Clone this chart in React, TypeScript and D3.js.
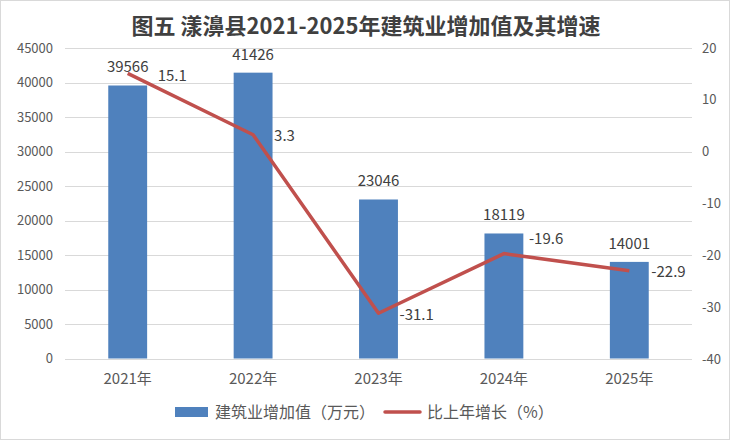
import { useEffect, useRef } from "react";
import * as d3 from "d3";

const years = ["2021年", "2022年", "2023年", "2024年", "2025年"];
const valueAdded = [39566, 41426, 23046, 18119, 14001];
const growth = [15.1, 3.3, -31.1, -19.6, -22.9];
const leftTicks = [0, 5000, 10000, 15000, 20000, 25000, 30000, 35000, 40000, 45000];
const rightTicks = [-40, -30, -20, -10, 0, 10, 20];

// where Excel put the growth labels, relative to each point
const growthLabelNudge = [
    [30, 2],
    [21, 1],
    [21, 1],
    [25, -15],
    [22, 1],
];

const W = 730;
const H = 440;
const FONT = "'Noto Sans CJK SC', 'Microsoft YaHei', sans-serif";

export default function App() {
    const ref = useRef<SVGSVGElement>(null);

    useEffect(() => {
        const svg = d3.select(ref.current);
        svg.selectAll("*").remove();

        const left = 65, right = 692, top = 48, bottom = 358.5;

        const x = d3.scaleBand().domain(years).range([left, right]).paddingInner(0.69).paddingOuter(0.345);
        const yL = d3.scaleLinear().domain([0, 45000]).range([bottom, top]);
        const yR = d3.scaleLinear().domain([-40, 20]).range([bottom + 1, top]);

        svg.append("rect")
            .attr("x", 0.5).attr("y", 0.5)
            .attr("width", W - 1).attr("height", H - 1)
            .attr("fill", "#fff").attr("stroke", "#d9d9d9");

        svg.append("text")
            .attr("x", 366).attr("y", 34)
            .attr("text-anchor", "middle")
            .attr("font-size", 22).attr("font-weight", "bold")
            .attr("fill", "#404040")
            .text("图五 漾濞县2021-2025年建筑业增加值及其增速");

        // gridlines + left axis
        svg.append("g").selectAll("line").data(leftTicks).enter().append("line")
            .attr("x1", left).attr("x2", right)
            .attr("y1", (d) => Math.round(yL(d)) + 0.5).attr("y2", (d) => Math.round(yL(d)) + 0.5)
            .attr("stroke", "#d9d9d9").attr("stroke-width", 1);

        svg.append("g").selectAll("text").data(leftTicks).enter().append("text")
            .attr("x", 53).attr("y", (d) => yL(d))
            .attr("dy", "0.35em").attr("text-anchor", "end")
            .attr("font-size", 13).attr("fill", "#595959")
            .text((d) => d);

        svg.append("g").selectAll("text").data(rightTicks).enter().append("text")
            .attr("x", 702).attr("y", (d) => yR(d))
            .attr("dy", "0.35em")
            .attr("font-size", 13).attr("fill", "#595959")
            .text((d) => d);

        svg.append("g").selectAll("text").data(years).enter().append("text")
            .attr("x", (d) => x(d)! + x.bandwidth() / 2).attr("y", 379)
            .attr("dy", "0.35em").attr("text-anchor", "middle")
            .attr("font-size", 15).attr("fill", "#595959")
            .text((d) => d);

        // bars
        svg.append("g").selectAll("rect").data(valueAdded).enter().append("rect")
            .attr("x", (d, i) => x(years[i])!)
            .attr("width", x.bandwidth())
            .attr("y", (d) => yL(d))
            .attr("height", (d) => bottom - yL(d))
            .attr("fill", "#4f81bd");

        svg.append("g").selectAll("text").data(valueAdded).enter().append("text")
            .attr("x", (d, i) => x(years[i])! + x.bandwidth() / 2)
            .attr("y", (d) => yL(d) - 13)
            .attr("text-anchor", "middle")
            .attr("font-size", 15).attr("fill", "#404040")
            .text((d) => d);

        // growth line
        const cx = (i: number) => x(years[i])! + x.bandwidth() / 2;
        const line = d3.line<number>()
            .x((d, i) => cx(i))
            .y((d) => yR(d));

        svg.append("path")
            .datum(growth)
            .attr("d", line)
            .attr("fill", "none")
            .attr("stroke", "#c0504d")
            .attr("stroke-width", 3.5)
            .attr("stroke-linejoin", "round");

        svg.append("g").selectAll("text").data(growth).enter().append("text")
            .attr("x", (d, i) => cx(i) + growthLabelNudge[i][0])
            .attr("y", (d, i) => yR(d) + growthLabelNudge[i][1])
            .attr("dy", "0.35em")
            .attr("font-size", 15).attr("fill", "#404040")
            .text((d) => d.toFixed(1));

        // legend
        const lg = svg.append("g");
        lg.append("rect")
            .attr("x", 175).attr("y", 407).attr("width", 33).attr("height", 10)
            .attr("fill", "#4f81bd");
        lg.append("text")
            .attr("x", 215).attr("y", 412).attr("dy", "0.35em")
            .attr("font-size", 16).attr("fill", "#595959")
            .text("建筑业增加值（万元）");
        lg.append("line")
            .attr("x1", 385).attr("x2", 420).attr("y1", 412).attr("y2", 412)
            .attr("stroke", "#c0504d").attr("stroke-width", 3.5)
            .attr("stroke-linecap", "round");
        lg.append("text")
            .attr("x", 427).attr("y", 412).attr("dy", "0.35em")
            .attr("font-size", 16).attr("fill", "#595959")
            .text("比上年增长（%）");
    }, []);

    return (
        <svg
            ref={ref}
            width={W}
            height={H}
            style={{ position: "absolute", left: 0, top: 0, fontFamily: FONT }}
        />
    );
}
